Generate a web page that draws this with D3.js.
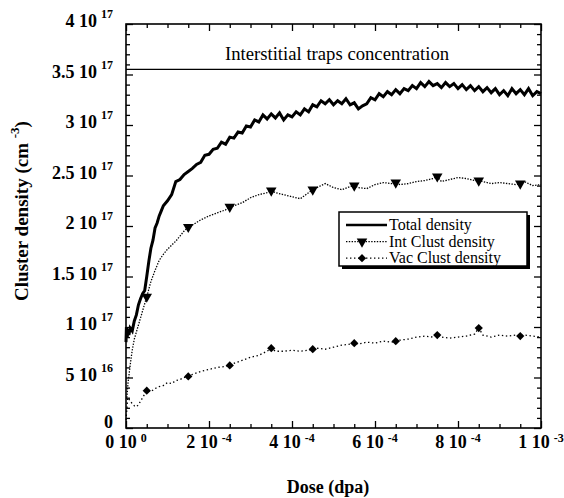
<!DOCTYPE html>
<html>
<head>
<meta charset="utf-8">
<script src="https://cdn.jsdelivr.net/npm/d3@7"></script>
<style>
  body { margin: 0; background: #fff; }
  svg text { fill: #000; }
  .tick-label { font-weight: bold; font-size: 18px; }
</style>
</head>
<body>
<svg id="chart" width="564" height="498" font-family="Liberation Serif, DejaVu Serif, serif"></svg>
<script>

// dose in units of 1e-4 dpa, densities in units of 1e17 cm^-3
var totalDose = [0, 0.01, 0.03, 0.05, 0.07, 0.1, 0.15, 0.2, 0.25, 0.3, 0.35, 0.4, 0.45, 0.5, 0.55, 0.6, 0.65, 0.7, 0.75, 0.8, 0.85, 0.9,
  1.0, 1.1, 1.2, 1.3, 1.4, 1.5, 1.6, 1.7, 1.8, 1.9, 2.0, 2.1, 2.2, 2.3, 2.4, 2.5, 2.6, 2.7, 2.8, 2.9,
  3.0, 3.1, 3.2, 3.3, 3.4, 3.5, 3.6, 3.7, 3.8, 3.9, 4.0, 4.1, 4.2, 4.3, 4.4, 4.5, 4.6, 4.7, 4.8, 4.9,
  5.0, 5.1, 5.2, 5.3, 5.4, 5.5, 5.6, 5.7, 5.8, 5.9, 6.0, 6.1, 6.2, 6.3, 6.4, 6.5, 6.6, 6.7, 6.8, 6.9,
  7.0, 7.1, 7.2, 7.3, 7.4, 7.5, 7.6, 7.7, 7.8, 7.9, 8.0, 8.1, 8.2, 8.3, 8.4, 8.5, 8.6, 8.7, 8.8, 8.9,
  9.0, 9.1, 9.2, 9.3, 9.4, 9.5, 9.6, 9.7, 9.8, 9.9, 10.0];
var totalVal = [0.85, 1.0, 0.9, 0.98, 0.92, 0.99, 0.96, 1.06, 1.12, 1.22, 1.28, 1.33, 1.36, 1.5, 1.65, 1.78, 1.86, 1.98, 2.03, 2.1, 2.15, 2.2,
  2.25, 2.31, 2.44, 2.46, 2.51, 2.54, 2.57, 2.61, 2.63, 2.70, 2.71, 2.76, 2.77, 2.83, 2.81, 2.88, 2.87, 2.93, 2.92, 2.99,
  2.98, 3.05, 3.03, 3.10, 3.06, 3.11, 3.07, 3.12, 3.05, 3.10, 3.08, 3.13, 3.10, 3.16, 3.13, 3.20, 3.18, 3.24, 3.21, 3.25,
  3.20, 3.24, 3.21, 3.26, 3.20, 3.22, 3.16, 3.19, 3.21, 3.27, 3.25, 3.31, 3.28, 3.33, 3.30, 3.35, 3.31, 3.36, 3.34, 3.39,
  3.36, 3.42, 3.38, 3.43, 3.39, 3.41, 3.37, 3.42, 3.38, 3.41, 3.36, 3.40, 3.35, 3.39, 3.34, 3.38, 3.33, 3.37, 3.32, 3.36,
  3.30, 3.34, 3.29, 3.36, 3.31, 3.35, 3.30, 3.36, 3.29, 3.33, 3.31];

var intDose = [0.02, 0.05, 0.1, 0.15, 0.2, 0.3, 0.4, 0.5, 0.6, 0.7, 0.8, 0.9, 1.0, 1.1, 1.2, 1.3, 1.4, 1.5, 1.6, 1.8, 2.0,
  2.2, 2.4, 2.5, 2.6, 2.8, 3.0, 3.2, 3.4, 3.5, 3.6, 3.8, 4.0, 4.2, 4.4, 4.5, 4.6, 4.8, 5.0, 5.2, 5.4, 5.5, 5.6, 5.8,
  6.0, 6.2, 6.4, 6.5, 6.6, 6.8, 7.0, 7.2, 7.4, 7.5, 7.6, 7.8, 8.0, 8.2, 8.4, 8.5, 8.6, 8.8, 9.0, 9.2, 9.4, 9.5, 9.6, 9.8, 10.0];
var intVal = [0.3, 0.45, 0.62, 0.77, 0.88, 1.02, 1.16, 1.3, 1.45, 1.56, 1.66, 1.72, 1.77, 1.81, 1.85, 1.9, 1.95, 1.99, 2.01, 2.06, 2.1,
  2.13, 2.16, 2.19, 2.2, 2.23, 2.28, 2.31, 2.33, 2.35, 2.33, 2.31, 2.29, 2.27, 2.33, 2.36, 2.38, 2.42, 2.38, 2.36, 2.39, 2.40, 2.38, 2.37,
  2.41, 2.43, 2.42, 2.43, 2.41, 2.42, 2.44, 2.45, 2.47, 2.49, 2.44, 2.46, 2.48, 2.47, 2.45, 2.45, 2.44, 2.42, 2.43, 2.42, 2.41, 2.42, 2.44, 2.40, 2.41];

var vacDose = [0, 0.02, 0.04, 0.1, 0.15, 0.2, 0.25, 0.3, 0.4, 0.5, 0.6, 0.7, 0.8, 0.9, 1.0, 1.1, 1.2, 1.3, 1.4, 1.5, 1.6, 1.8, 2.0,
  2.2, 2.4, 2.5, 2.6, 2.8, 3.0, 3.2, 3.4, 3.5, 3.6, 3.8, 4.0, 4.2, 4.4, 4.5, 4.6, 4.8, 5.0, 5.2, 5.4, 5.5, 5.6, 5.8,
  6.0, 6.2, 6.4, 6.5, 6.6, 6.8, 7.0, 7.2, 7.4, 7.5, 7.6, 7.8, 8.0, 8.2, 8.4, 8.5, 8.6, 8.8, 9.0, 9.2, 9.4, 9.5, 9.6, 9.8, 10.0];
var vacVal = [0.08, 0.18, 0.3, 0.27, 0.24, 0.22, 0.21, 0.23, 0.3, 0.37, 0.36, 0.39, 0.41, 0.42, 0.45, 0.44, 0.47, 0.48, 0.5, 0.51, 0.53, 0.56, 0.58,
  0.6, 0.61, 0.62, 0.64, 0.67, 0.7, 0.72, 0.76, 0.79, 0.76, 0.76, 0.77, 0.76, 0.77, 0.78, 0.79, 0.78, 0.8, 0.82, 0.83, 0.84, 0.83, 0.85,
  0.84, 0.86, 0.85, 0.86, 0.87, 0.88, 0.9, 0.91, 0.9, 0.92, 0.9, 0.89, 0.9, 0.91, 0.93, 0.99, 0.92, 0.9, 0.92, 0.91, 0.92, 0.91, 0.92, 0.91, 0.9];

// symbols sit on every 1e-4 dpa, offset by half a step
var markerDose = [0.5, 1.5, 2.5, 3.5, 4.5, 5.5, 6.5, 7.5, 8.5, 9.5];

var trapLevel = 3.55;
var trapLabel = "Interstitial traps concentration";

var yTickVals = [0, 0.5, 1, 1.5, 2, 2.5, 3, 3.5, 4];
var yTickBase = ["0", "5 10", "1 10", "1.5 10", "2 10", "2.5 10", "3 10", "3.5 10", "4 10"];
var yTickExp = ["", "16", "17", "17", "17", "17", "17", "17", "17"];

var xTickVals = [0, 2, 4, 6, 8, 10];
var xTickBase = ["0 10", "2 10", "4 10", "6 10", "8 10", "1 10"];
var xTickExp = ["0", "-4", "-4", "-4", "-4", "-3"];

var legendNames = ["Total density", "Int Clust density", "Vac Clust density"];

var margin = {top: 24, right: 23, bottom: 70, left: 126},
    svgWidth = 564, svgHeight = 498,
    width = svgWidth - margin.left - margin.right,
    height = svgHeight - margin.top - margin.bottom;

var svg = d3.select("#chart");

var xScale = d3.scaleLinear().domain([0, 10]).range([margin.left, margin.left + width]);
var yScale = d3.scaleLinear().domain([0, 4]).range([margin.top + height, margin.top]);

var x0 = xScale(0), x1 = xScale(10), y0 = yScale(0), y1 = yScale(4);

// inward ticks on all four sides
var xMinor = d3.range(0, 10.01, 0.5);
var yMinor = d3.range(0, 4.001, 0.1);
function isMajorX(d) { return Math.abs(d / 2 - Math.round(d / 2)) < 1e-6; }
function isMajorY(d) { return Math.abs(d * 2 - Math.round(d * 2)) < 1e-6; }

svg.append("g").attr("transform", "translate(0," + y0 + ")")
  .call(d3.axisBottom(xScale).tickValues(xMinor).tickFormat("").tickSizeOuter(0).tickSize(-4))
  .call(function(g) { g.selectAll(".tick line").filter(isMajorX).attr("y2", -7); });
svg.append("g").attr("transform", "translate(0," + y1 + ")")
  .call(d3.axisTop(xScale).tickValues(xMinor).tickFormat("").tickSizeOuter(0).tickSize(-4))
  .call(function(g) { g.selectAll(".tick line").filter(isMajorX).attr("y2", 7); });
svg.append("g").attr("transform", "translate(" + x0 + ",0)")
  .call(d3.axisLeft(yScale).tickValues(yMinor).tickFormat("").tickSizeOuter(0).tickSize(-4))
  .call(function(g) { g.selectAll(".tick line").filter(isMajorY).attr("x2", 7); });
svg.append("g").attr("transform", "translate(" + x1 + ",0)")
  .call(d3.axisRight(yScale).tickValues(yMinor).tickFormat("").tickSizeOuter(0).tickSize(-4))
  .call(function(g) { g.selectAll(".tick line").filter(isMajorY).attr("x2", -7); });

svg.selectAll(".domain").remove();
svg.selectAll(".tick line").attr("stroke", "#000").attr("stroke-width", 1.3);

svg.append("rect")
  .attr("x", x0).attr("y", y1).attr("width", x1 - x0).attr("height", y0 - y1)
  .attr("fill", "none").attr("stroke", "#000").attr("stroke-width", 1.6);

// tick labels with exponents as superscripts
yTickVals.forEach(function(v, i) {
  var t = svg.append("text").attr("class", "tick-label")
    .attr("x", 113).attr("y", v == 0 ? yScale(v) : yScale(v) + 3).attr("text-anchor", "end");
  t.append("tspan").text(yTickBase[i]);
  if (yTickExp[i]) {
    t.append("tspan").attr("dy", -9).attr("dx", 4).attr("font-size", 12).text(yTickExp[i]);
  }
});

xTickVals.forEach(function(v, i) {
  var t = svg.append("text").attr("class", "tick-label")
    .attr("x", xScale(v)).attr("y", 448).attr("text-anchor", "middle");
  t.append("tspan").text(xTickBase[i]);
  t.append("tspan").attr("dy", -6).attr("dx", 4).attr("font-size", 12).text(xTickExp[i]);
});

// axis titles
svg.append("text").attr("x", 328).attr("y", 493).attr("text-anchor", "middle")
  .attr("font-weight", "bold").attr("font-size", 18).text("Dose (dpa)");

var yTitle = svg.append("text")
  .attr("transform", "translate(28,211) rotate(-90)")
  .attr("text-anchor", "middle").attr("font-weight", "bold").attr("font-size", 19);
yTitle.append("tspan").text("Cluster density (cm ");
yTitle.append("tspan").attr("dy", -9).attr("font-size", 13).text("-3");
yTitle.append("tspan").attr("dy", 9).text(")");

// trap concentration level
svg.append("line")
  .attr("x1", x0).attr("x2", x1).attr("y1", yScale(trapLevel)).attr("y2", yScale(trapLevel))
  .attr("stroke", "#000").attr("stroke-width", 1.3);
svg.append("text").attr("x", 337).attr("y", 60).attr("text-anchor", "middle")
  .attr("font-size", 18.7).text(trapLabel);

// curves
var line = d3.line().x(function(d) { return xScale(d[0]); }).y(function(d) { return yScale(d[1]); });

var totalData = d3.zip(totalDose, totalVal);
var intData = d3.zip(intDose, intVal);
var vacData = d3.zip(vacDose, vacVal);

svg.append("path").datum(vacData).attr("d", line)
  .attr("fill", "none").attr("stroke", "#000").attr("stroke-width", 1.3)
  .attr("stroke-dasharray", "1.4,2.6");

svg.append("path").datum(intData).attr("d", line)
  .attr("fill", "none").attr("stroke", "#000").attr("stroke-width", 1.3)
  .attr("stroke-dasharray", "1.4,1.4");

svg.append("path").datum(totalData).attr("d", line)
  .attr("fill", "none").attr("stroke", "#000").attr("stroke-width", 3)
  .attr("stroke-linejoin", "miter");

var triangle = d3.symbol().type(d3.symbolTriangle).size(48);
var diamond = d3.symbol().type(d3.symbolSquare).size(34);

var intMarks = intData.filter(function(d) { return markerDose.indexOf(d[0]) >= 0; });
var vacMarks = vacData.filter(function(d) { return markerDose.indexOf(d[0]) >= 0; });

svg.selectAll(".int-mark").data(intMarks).enter().append("path")
  .attr("class", "int-mark")
  .attr("transform", function(d) { return "translate(" + xScale(d[0]) + "," + yScale(d[1]) + ") rotate(180)"; })
  .attr("d", triangle).attr("fill", "#000");

svg.selectAll(".vac-mark").data(vacMarks).enter().append("path")
  .attr("class", "vac-mark")
  .attr("transform", function(d) { return "translate(" + xScale(d[0]) + "," + yScale(d[1]) + ") rotate(45)"; })
  .attr("d", diamond).attr("fill", "#000");

// legend box with drop shadow
var legend = svg.append("g").attr("transform", "translate(339,212)");
legend.append("rect").attr("x", 3).attr("y", 3).attr("width", 188).attr("height", 54).attr("fill", "#000");
legend.append("rect").attr("x", 0).attr("y", 0).attr("width", 188).attr("height", 54)
  .attr("fill", "#fff").attr("stroke", "#000").attr("stroke-width", 1.5);

var legendDash = [null, "1.4,1.4", "1.4,2.6"];
var legendWidth = [2.6, 1.3, 1.3];
legendNames.forEach(function(name, i) {
  var ly = 13 + i * 16.6;
  legend.append("line").attr("x1", 7).attr("x2", 48).attr("y1", ly).attr("y2", ly)
    .attr("stroke", "#000").attr("stroke-width", legendWidth[i])
    .attr("stroke-dasharray", legendDash[i]);
  if (i == 1) {
    legend.append("path").attr("transform", "translate(23," + ly + ") rotate(180)")
      .attr("d", triangle).attr("fill", "#000");
  }
  if (i == 2) {
    legend.append("path").attr("transform", "translate(23," + ly + ") rotate(45)")
      .attr("d", diamond).attr("fill", "#000");
  }
  legend.append("text").attr("x", 50).attr("y", ly + 5).attr("font-size", 16).text(name);
});

</script>
</body>
</html>
